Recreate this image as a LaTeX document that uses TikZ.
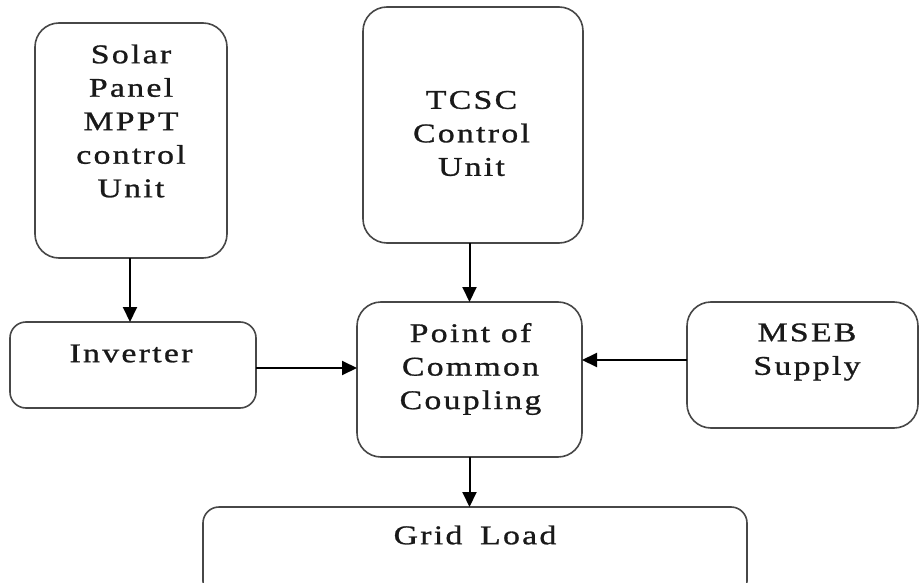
\documentclass[tikz,border=0pt]{standalone}
\usepackage{fontspec}
\setmainfont{Liberation Serif}[FakeStretch=1.25, LetterSpace=8.5, FakeBold=1]
\usetikzlibrary{arrows.meta}
\begin{document}
\begin{tikzpicture}[x=1pt, y=-1pt,
  blk/.style={draw=black!72, line width=1.6pt, rounded corners=#1,
    inner sep=0pt, outer sep=0pt},
  blk/.default=24pt,
  txt/.style={align=center, inner sep=0pt, text=black!90,
    font=\fontsize{27}{33.5}\selectfont},
  flow/.style={-{Triangle[length=15pt, width=14pt]}, line width=2pt}]
\useasboundingbox (0,0) rectangle (921,583);
\clip (0,0) rectangle (921,583);

% blocks
\node[blk, minimum width=192pt, minimum height=235pt] (solar) at (131,140.5) {};
\node[blk, minimum width=220pt, minimum height=236pt] (tcsc)  at (473,125) {};
\node[blk=16pt, minimum width=246pt, minimum height=86pt] (inv) at (133,365) {};
\node[blk, minimum width=225pt, minimum height=155pt] (pcc)   at (469.5,379.5) {};
\node[blk, minimum width=231pt, minimum height=126pt] (mseb)  at (802.5,365) {};
\node[blk=16pt, minimum width=544pt, minimum height=90pt] (grid) at (475,552) {};

% labels
\node[txt] (solartxt) at (131,121)   {Solar\\Panel\\MPPT\\control\\Unit};
\node[txt] (tcsctxt)  at (471.5,133.5) {TCSC\\Control\\Unit};
\node[txt] (invtxt)   at (131,353.5) {Inverter};
\node[txt] (pcctxt)   at (470.5,369) {Point of\\Common\\Coupling};
\node[txt] (msebtxt)  at (807,352)   {MSEB\\Supply};
\node[txt] (gridtxt)  at (475,535)   {Grid\hspace{7pt} Load};

% connections
\draw[flow] ([xshift=-1pt]solar.south) -- ([xshift=-1pt]solar.south |- inv.north);
\draw[flow] (pcc.north |- tcsc.south) -- (pcc.north);
\draw[flow] ([yshift=-3pt]inv.east) -- ([yshift=-3pt]inv.east -| pcc.west);
\draw[flow] ([yshift=5pt]mseb.west) -- ([yshift=5pt]mseb.west -| pcc.east);
\draw[flow] (pcc.south) -- (pcc.south |- grid.north);
\end{tikzpicture}
\end{document}
